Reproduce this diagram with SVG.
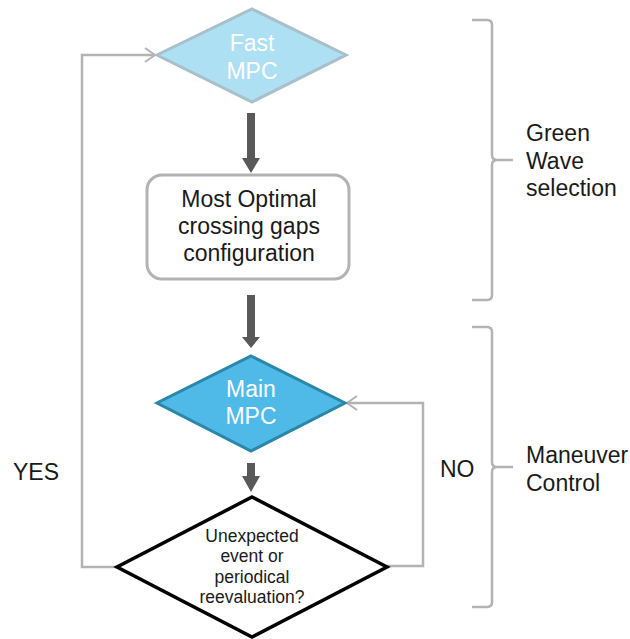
<svg xmlns="http://www.w3.org/2000/svg" width="630" height="639" viewBox="0 0 630 639">
  <style>
    .t { font-family: "Liberation Sans", Arial, sans-serif; font-size: 23px; fill: #1a1a1a; }
    .w { fill: #ffffff; text-anchor: middle; }
    .c { text-anchor: middle; }
    .s { font-size: 17.5px; }
    .loop { fill: none; stroke: #b3b3b3; stroke-width: 2.5; }
    .brace { fill: none; stroke: #b3b3b3; stroke-width: 2.5; }
    .flow { fill: #595959; }
  </style>
  <defs>
    <marker id="open" viewBox="0 0 12 16" refX="11" refY="8" markerWidth="12" markerHeight="16" markerUnits="userSpaceOnUse" orient="auto">
      <path d="M1,1 L11,8 L1,15" fill="none" stroke="#b3b3b3" stroke-width="2"/>
    </marker>
  </defs>

  <!-- connectors -->
  <g id="connectors">
    <!-- YES loop back to Fast MPC -->
    <polyline class="loop" points="117,567 82,567 82,55 155,55" marker-end="url(#open)"/>
    <!-- NO loop back to Main MPC -->
    <polyline class="loop" points="387,566 423,566 423,403 347,403" marker-end="url(#open)"/>
    <!-- thick downward flow arrows -->
    <path class="flow" d="M247,113 H255 V158 H260 L251,173 L242,158 H247 Z"/>
    <path class="flow" d="M247,295 H255 V337 H260 L251,348 L242,337 H247 Z"/>
    <path class="flow" d="M247,463 H255 V476 H260 L251,492 L242,476 H247 Z"/>
  </g>

  <g id="fast-mpc">
    <polygon points="252,9 346,55 252,102 157,55" fill="#aee0f4" stroke="#a7c0c9" stroke-width="3"/>
    <text class="t w" x="252" y="51">Fast</text>
    <text class="t w" x="252" y="79">MPC</text>
  </g>

  <g id="gap-config">
    <rect x="147" y="175" width="202" height="104" rx="15" ry="15" fill="#ffffff" stroke="#b3b3b3" stroke-width="3"/>
    <text class="t c" x="249" y="207">Most Optimal</text>
    <text class="t c" x="249" y="234">crossing gaps</text>
    <text class="t c" x="249" y="261">configuration</text>
  </g>

  <g id="main-mpc">
    <polygon points="251,356 345,403 251,451 157,403" fill="#4fb9e8" stroke="#2b87a8" stroke-width="3"/>
    <text class="t w" x="251" y="397">Main</text>
    <text class="t w" x="251" y="424">MPC</text>
  </g>

  <g id="decision">
    <polygon points="252,497 387,567 252,637 117,567" fill="#ffffff" stroke="#000000" stroke-width="3.5"/>
    <text class="t c s" x="252" y="542">Unexpected</text>
    <text class="t c s" x="252" y="562">event or</text>
    <text class="t c s" x="252" y="583">periodical</text>
    <text class="t c s" x="252" y="603">reevaluation?</text>
  </g>

  <g id="labels">
    <text class="t" x="13" y="480">YES</text>
    <text class="t" x="440" y="477">NO</text>
  </g>

  <g id="green-wave">
    <path class="brace" d="M472,20 H487 Q492,20 492,25 V155 Q492,160 497,160 H513 M497,160 Q492,160 492,165 V295 Q492,300 487,300 H472"/>
    <text class="t" x="526" y="141">Green</text>
    <text class="t" x="526" y="169">Wave</text>
    <text class="t" x="526" y="196">selection</text>
  </g>

  <g id="maneuver-control">
    <path class="brace" d="M472,327 H487 Q492,327 492,332 V462 Q492,467 497,467 H513 M497,467 Q492,467 492,472 V602 Q492,607 487,607 H472"/>
    <text class="t" x="526" y="463">Maneuver</text>
    <text class="t" x="526" y="491">Control</text>
  </g>
</svg>
